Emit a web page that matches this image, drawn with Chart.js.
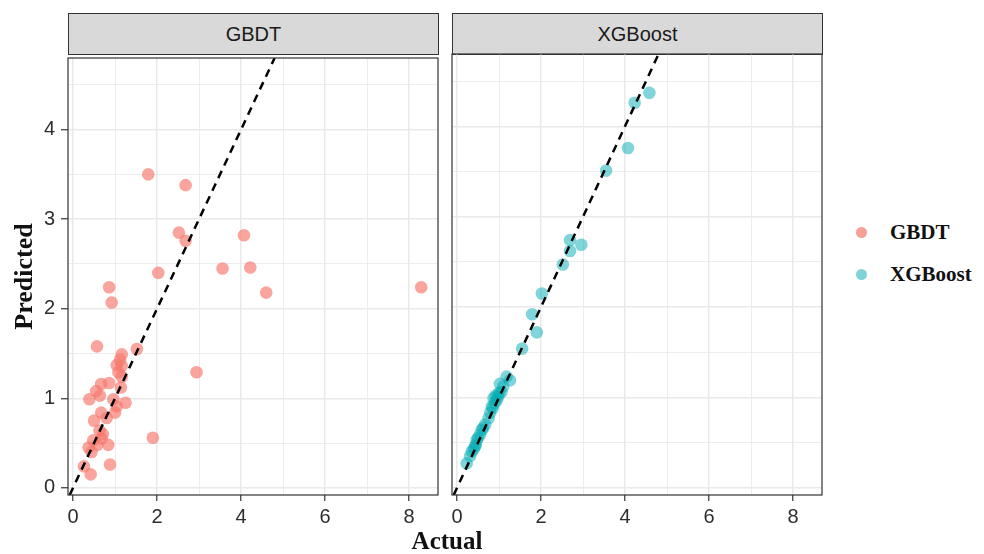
<!DOCTYPE html>
<html>
<head>
<meta charset="utf-8">
<script src="https://cdn.jsdelivr.net/npm/chart.js@4/dist/chart.umd.min.js"></script>
<style>
  body { margin: 0; background: #fff; width: 984px; height: 554px; position: relative; overflow: hidden; }
  .box { position: absolute; }
  .strip { position: absolute; top: 13px; height: 40px; width: 369px; background: #d9d9d9; border: 1px solid #333;
           font: 20px 'Liberation Sans', Arial, sans-serif; color: #1a1a1a; text-align: center; line-height: 40px; }
  .legend { position: absolute; left: 856px; font: bold 21px 'Liberation Serif', 'Times New Roman', serif; color: #111; }
  .legend span.dot { display: inline-block; width: 11px; height: 11px; border-radius: 50%; margin-right: 23px; vertical-align: middle; position: relative; top: -2px; }
  .xtitle { position: absolute; left: 0; width: 894px; text-align: center; top: 527px; font: bold 25px 'Liberation Serif', 'Times New Roman', serif; color: #111; }
</style>
</head>
<body>
<div class="strip" style="left:68px">GBDT</div>
<div class="strip" style="left:452px">XGBoost</div>
<canvas id="gbdtChart" class="box" style="left:0;top:40px" width="445" height="514"></canvas>
<canvas id="xgbChart" class="box" style="left:445px;top:40px" width="390" height="514"></canvas>
<div class="legend" style="top:220px"><span class="dot" style="background:#f6a096"></span>GBDT</div>
<div class="legend" style="top:262px"><span class="dot" style="background:#7fd3d6"></span>XGBoost</div>
<div class="xtitle">Actual</div>
<script>
// ===== DATA =====
const gbdtActual = [1.79, 2.68, 2.52, 2.68, 4.07, 3.56, 4.22, 4.60, 8.29, 2.03, 0.86, 0.92,
  0.57, 1.52, 1.16, 1.12, 1.04, 1.16, 1.08, 1.16, 2.94, 0.67, 0.86, 1.14, 0.55, 0.64, 0.39,
  1.25, 0.96, 1.04, 1.00, 0.67, 0.80, 0.50, 0.63, 0.71, 0.48, 0.68, 0.84, 0.58, 0.37, 0.44,
  1.90, 0.88, 0.26, 0.42];
const gbdtPredicted = [3.50, 3.38, 2.85, 2.76, 2.82, 2.45, 2.46, 2.18, 2.24, 2.40, 2.24, 2.07,
  1.58, 1.55, 1.49, 1.43, 1.37, 1.36, 1.29, 1.24, 1.29, 1.16, 1.17, 1.12, 1.08, 1.03, 0.99,
  0.95, 0.99, 0.91, 0.84, 0.84, 0.78, 0.75, 0.64, 0.60, 0.53, 0.55, 0.48, 0.48, 0.45, 0.40,
  0.56, 0.26, 0.24, 0.15];

const xgbActual = [4.58, 4.23, 4.07, 3.55, 2.96, 2.69, 2.69, 2.52, 2.02, 1.79, 1.90, 1.55,
  1.18, 1.26, 1.10, 1.06, 0.98, 0.87, 0.90, 0.83, 0.79, 0.75, 0.67, 0.59, 0.55, 0.47, 0.43,
  0.35, 0.31, 0.23, 1.00, 0.95, 0.85, 0.62, 0.50, 0.40, 0.45, 1.02, 0.92];
const xgbPredicted = [4.37, 4.26, 3.76, 3.51, 2.69, 2.74, 2.62, 2.47, 2.15, 1.92, 1.72, 1.54,
  1.23, 1.19, 1.12, 1.06, 1.01, 0.99, 0.94, 0.90, 0.83, 0.77, 0.70, 0.64, 0.59, 0.53, 0.46,
  0.40, 0.35, 0.27, 1.05, 0.97, 0.88, 0.66, 0.55, 0.43, 0.48, 1.15, 1.02];

const xTicks = [0, 1, 2, 3, 4, 5, 6, 7, 8];
const yTicks = [0, 0.5, 1, 1.5, 2, 2.5, 3, 3.5, 4, 4.5];
const xRange = [-0.12, 8.69];
const yRange = [-0.08, 4.80];

// ===== STYLE =====
const COLORS = {
  gbdt: 'rgba(246, 118, 106, 0.66)',
  xgb: 'rgba(0, 172, 180, 0.5)',
  grid: '#e9e9e9',
  axis: '#333333',
  text: '#2e2e2e',
};
const TICK_FONT = { family: "'Liberation Sans', Arial, sans-serif", size: 20 };

const panelBorder = {
  id: 'panelBorder',
  afterDraw(chart) {
    const { ctx, chartArea: a } = chart;
    ctx.save();
    ctx.strokeStyle = COLORS.axis;
    ctx.lineWidth = 1.2;
    ctx.strokeRect(a.left, a.top, a.right - a.left, a.bottom - a.top);
    ctx.restore();
  }
};

const isMajor = v => Math.abs(v - Math.round(v)) < 1e-9;
const isEven = v => isMajor(v) && Math.round(v) % 2 === 0;

function toPoints(xs, ys) {
  return xs.map((x, i) => ({ x, y: ys[i] }));
}

function makeChart(id, actual, predicted, color, showY, padRight) {
  const ctx = document.getElementById(id).getContext('2d');
  return new Chart(ctx, {
    type: 'scatter',
    data: {
      datasets: [
        {
          data: [{ x: yRange[0], y: yRange[0] }, { x: yRange[1], y: yRange[1] }],
          showLine: true,
          borderColor: '#000',
          borderWidth: 2.5,
          borderDash: [8, 6],
          pointRadius: 0,
          order: 0,
        },
        {
          data: toPoints(actual, predicted),
          backgroundColor: color,
          borderWidth: 0,
          pointRadius: 6.3,
          order: 1,
        }
      ]
    },
    options: {
      responsive: false,
      animation: false,
      layout: { padding: { top: 14, right: padRight, left: 0, bottom: 0 } },
      plugins: { legend: { display: false }, tooltip: { enabled: false } },
      scales: {
        x: {
          min: xRange[0], max: xRange[1],
          afterBuildTicks: s => { s.ticks = xTicks.map(v => ({ value: v })); },
          afterFit: s => { s.height = 59; },
          border: { display: false },
          grid: {
            color: COLORS.grid,
            lineWidth: c => isEven(c.tick.value) ? 1.5 : 0.8,
            tickLength: 6,
            tickColor: c => isEven(c.tick.value) ? COLORS.axis : 'rgba(0,0,0,0)',
            tickWidth: 1.2,
          },
          ticks: {
            color: COLORS.text, font: TICK_FONT, padding: 4,
            maxRotation: 0, autoSkip: false,
            callback: v => isEven(v) ? String(v) : '',
          },
        },
        y: {
          min: yRange[0], max: yRange[1],
          afterBuildTicks: s => { s.ticks = yTicks.map(v => ({ value: v })); },
          afterFit: s => { s.width = showY ? 68 : 7; },
          border: { display: false },
          grid: {
            color: COLORS.grid,
            lineWidth: c => isMajor(c.tick.value) ? 1.5 : 0.8,
            drawTicks: showY,
            tickLength: 7,
            tickColor: c => isMajor(c.tick.value) ? COLORS.axis : 'rgba(0,0,0,0)',
            tickWidth: 1.2,
          },
          ticks: {
            display: showY,
            color: COLORS.text, font: TICK_FONT, padding: 6,
            callback: v => isMajor(v) ? String(v) : '',
          },
          title: {
            display: showY,
            text: 'Predicted',
            color: '#111',
            font: { family: "'Liberation Serif', 'Times New Roman', serif", size: 26, weight: 'bold' },
            padding: { top: 10, bottom: 0 },
          },
        }
      }
    },
    plugins: [panelBorder]
  });
}

makeChart('gbdtChart', gbdtActual, gbdtPredicted, COLORS.gbdt, true, 7);
makeChart('xgbChart', xgbActual, xgbPredicted, COLORS.xgb, false, 13);
</script>
</body>
</html>
